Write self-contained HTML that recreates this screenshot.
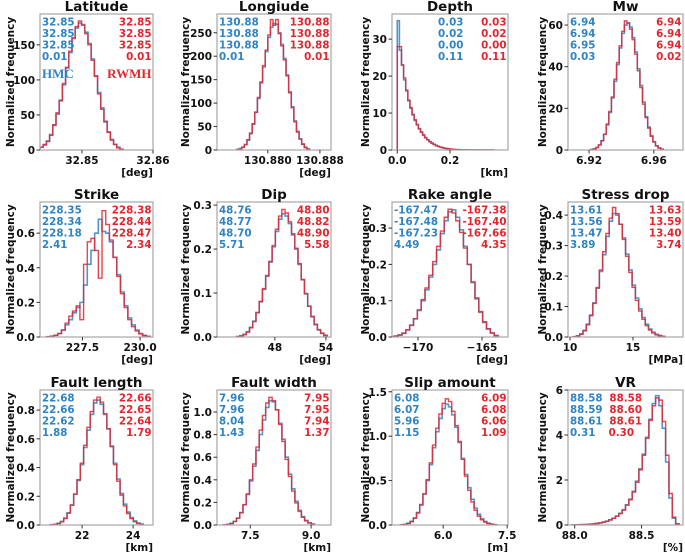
<!DOCTYPE html>
<html><head><meta charset="utf-8"><style>
html,body{margin:0;padding:0;background:#fff;}
svg{display:block;font-family:"DejaVu Sans","Liberation Sans",sans-serif;font-weight:bold;}
</style></head><body>
<svg id="fig" width="685" height="552" viewBox="0 0 685 552" xmlns="http://www.w3.org/2000/svg"></svg>
<script>
// ---- data (bin start, bin width, heights) ----
const latitudeBins=[32.8432,0.00045];
const latitudeHMC=[1,2,4,7,13,22,35,51,71,93,117,139,159,174,181,179,168,152,130,106,82,60,40,26,15,8,4,1];
const latitudeRWMH=[1,1,4,8,12,21,36,53,70,95,118,141,160,176,184,178,166,150,128,105,80,58,41,25,14,8,3,1];
const longitudeBins=[130.8752,0.0004];
const longitudeHMC=[1,3,6,12,21,35,55,81,110,143,177,210,240,262,270,268,250,225,195,160,124,92,62,40,24,13,6,2];
const longitudeRWMH=[1,2,6,11,22,36,56,80,112,145,180,213,245,278,266,278,248,222,192,158,122,90,60,38,23,12,5,2];
const depthBins=[0.0,0.008];
const depthHMC=[35,27,23,19,16.2,13.3,11.3,9.5,8,6.8,5.7,4.8,4,3.3,2.75,2.25,1.85,1.5,1.2,0.98,0.78,0.62,0.5,0.39,0.3,0.23,0.18,0.13,0.1,0.08,0.06,0.045,0.035,0.025,0.02,0.015,0.01,0.008,0.006,0.005,0.004,0.003,0.002,0.002,0.001,0.001];
const depthRWMH=[28,28,23,19.5,16,13.5,11.5,9.7,8.2,6.9,5.8,4.9,4.1,3.4,2.8,2.3,1.9,1.55,1.25,1,0.8,0.64,0.5,0.4,0.31,0.24,0.18,0.14,0.1,0.08,0.06,0.045,0.035,0.025,0.02,0.015,0.01,0.008,0.006,0.005,0.004,0.003,0.002,0.002,0.001,0.001];
const mwBins=[6.921,0.0016];
const mwHMC=[0.2,0.5,1.2,2.4,4.4,7.5,12,18,25,33,41,49,56,60,61,59,54,47,39,31,23,16,11,7,4,2,1,0.4];
const mwRWMH=[0.2,0.5,1.1,2.5,4.5,7.6,12.5,18.5,25.5,34,42,50,57,62,61,58,53,46,38,30,22,15.5,10.5,6.5,3.8,2,1,0.4];
const strikeBins=[225.95,0.16];
const strikeHMC=[0.002,0.005,0.01,0.02,0.04,0.07,0.1,0.14,0.17,0.2,0.3,0.42,0.5,0.6,0.68,0.61,0.6,0.55,0.46,0.36,0.26,0.18,0.11,0.07,0.04,0.02,0.01,0.004];
const strikeRWMH=[0.002,0.004,0.01,0.02,0.04,0.08,0.12,0.15,0.18,0.1,0.42,0.55,0.57,0.5,0.34,0.73,0.65,0.56,0.46,0.35,0.25,0.17,0.1,0.06,0.035,0.018,0.008,0.003];
const dipBins=[43.5,0.38];
const dipHMC=[0.001,0.003,0.006,0.012,0.022,0.036,0.056,0.08,0.108,0.138,0.17,0.205,0.24,0.268,0.28,0.275,0.258,0.232,0.2,0.165,0.13,0.098,0.07,0.046,0.028,0.016,0.008,0.003];
const dipRWMH=[0.001,0.002,0.005,0.011,0.021,0.035,0.055,0.081,0.11,0.14,0.172,0.208,0.245,0.275,0.29,0.282,0.262,0.235,0.202,0.167,0.131,0.099,0.07,0.047,0.029,0.017,0.009,0.004];
const rakeBins=[-172.15,0.3];
const rakeHMC=[0.001,0.003,0.006,0.011,0.02,0.033,0.05,0.073,0.1,0.13,0.165,0.2,0.24,0.285,0.32,0.345,0.35,0.33,0.295,0.25,0.2,0.15,0.105,0.068,0.04,0.022,0.011,0.004];
const rakeRWMH=[0.001,0.002,0.005,0.01,0.019,0.032,0.05,0.075,0.103,0.135,0.17,0.208,0.25,0.292,0.33,0.352,0.342,0.32,0.288,0.245,0.2,0.152,0.108,0.07,0.042,0.023,0.011,0.004];
const stressBins=[10.25,0.26];
const stressHMC=[0.001,0.004,0.01,0.022,0.042,0.072,0.112,0.16,0.215,0.27,0.33,0.38,0.405,0.4,0.37,0.325,0.272,0.22,0.17,0.128,0.092,0.064,0.042,0.026,0.016,0.009,0.005,0.002];
const stressRWMH=[0.001,0.003,0.009,0.02,0.04,0.07,0.11,0.162,0.22,0.28,0.34,0.39,0.425,0.405,0.37,0.32,0.265,0.212,0.163,0.12,0.085,0.058,0.037,0.023,0.013,0.007,0.004,0.002];
const lengthBins=[20.76,0.13];
const lengthHMC=[0.002,0.005,0.012,0.025,0.048,0.085,0.14,0.215,0.31,0.42,0.54,0.66,0.77,0.85,0.87,0.84,0.77,0.67,0.55,0.43,0.32,0.22,0.145,0.09,0.052,0.028,0.014,0.006];
const lengthRWMH=[0.001,0.004,0.01,0.022,0.045,0.082,0.138,0.215,0.315,0.43,0.555,0.68,0.79,0.87,0.89,0.855,0.775,0.67,0.545,0.42,0.305,0.208,0.133,0.08,0.045,0.023,0.011,0.005];
const widthBins=[6.84,0.08];
const widthHMC=[0.002,0.006,0.015,0.032,0.062,0.11,0.18,0.27,0.39,0.52,0.66,0.8,0.93,1.04,1.1,1.09,1.02,0.9,0.76,0.6,0.45,0.32,0.21,0.13,0.075,0.04,0.02,0.008];
const widthRWMH=[0.002,0.005,0.013,0.03,0.06,0.108,0.18,0.275,0.4,0.54,0.69,0.84,0.97,1.08,1.13,1.1,1.02,0.89,0.74,0.58,0.43,0.3,0.195,0.12,0.068,0.036,0.017,0.007];
const slipBins=[5.0,0.075];
const slipHMC=[0.003,0.008,0.02,0.042,0.08,0.14,0.23,0.35,0.5,0.68,0.87,1.05,1.2,1.31,1.36,1.33,1.24,1.1,0.93,0.75,0.57,0.42,0.29,0.19,0.12,0.07,0.04,0.02,0.01,0.004];
const slipRWMH=[0.002,0.006,0.016,0.038,0.075,0.135,0.225,0.35,0.51,0.7,0.9,1.09,1.25,1.37,1.42,1.39,1.28,1.12,0.94,0.74,0.55,0.39,0.26,0.165,0.1,0.058,0.032,0.016,0.008,0.003];
const vrBins=[87.98,0.025];
const vrHMC=[0.005,0.008,0.012,0.018,0.025,0.035,0.05,0.07,0.095,0.13,0.17,0.23,0.3,0.4,0.52,0.68,0.9,1.15,1.5,1.95,2.5,3.15,3.9,4.7,5.4,5.75,5.3,4.3,2.8,1.2,0.3,0.05];
const vrRWMH=[0.004,0.007,0.011,0.017,0.024,0.034,0.048,0.068,0.093,0.127,0.168,0.225,0.295,0.39,0.51,0.66,0.88,1.12,1.46,1.9,2.45,3.1,3.85,4.65,5.3,5.65,5.55,4.6,3.1,1.4,0.35,0.06];

// ---- tick labels & stats ----
const titles=["Latitude","Longiude","Depth","Mw","Strike","Dip","Rake angle","Stress drop","Fault length","Fault width","Slip amount","VR"];
const units=["[deg]","[deg]","[km]","","[deg]","[deg]","[deg]","[MPa]","[km]","[km]","[m]","[%]"];
const xTicks=[[32.85,32.86],[130.88,130.888],[0,0.2],[6.92,6.96],[227.5,230],[48,54],[-170,-165],[10,15],[22,24],[7.5,9],[6,7.5],[88,88.5]];
const xTickLabels=[["32.85","32.86"],["130.880","130.888"],["0.0","0.2"],["6.92","6.96"],["227.5","230.0"],["48","54"],["\u2212170","\u2212165"],["10","15"],["22","24"],["7.5","9.0"],["6.0","7.5"],["88.0","88.5"]];
const yTicks=[[0,50,100,150],[0,50,100,150,200,250],[0,10,20,30],[0,20,40,60],[0,0.2,0.4,0.6],[0,0.1,0.2,0.3],[0,0.1,0.2,0.3],[0,0.1,0.2,0.3,0.4],[0,0.2,0.4,0.6,0.8],[0,0.2,0.4,0.6,0.8,1.0],[0,0.5,1.0,1.5],[0,2,4,6]];
const yTickLabels=[["0","50","100","150"],["0","50","100","150","200","250"],["0","10","20","30"],["0","20","40","60"],["0.0","0.2","0.4","0.6"],["0.0","0.1","0.2","0.3"],["0.0","0.1","0.2","0.3"],["0.0","0.1","0.2","0.3","0.4"],["0.0","0.2","0.4","0.6","0.8"],["0.0","0.2","0.4","0.6","0.8","1.0"],["0.0","0.5","1.0","1.5"],["0","2","4","6"]];
const statsHMC=[["32.85","32.85","32.85","0.01"],["130.88","130.88","130.88","0.01"],["0.03","0.02","0.00","0.11"],["6.94","6.94","6.95","0.03"],["228.35","228.34","228.18","2.41"],["48.76","48.77","48.70","5.71"],["-167.47","-167.48","-167.23","4.49"],["13.61","13.56","13.47","3.89"],["22.68","22.66","22.62","1.88"],["7.96","7.96","8.04","1.43"],["6.08","6.07","5.96","1.15"],["88.58","88.59","88.61","0.31"]];
const statsRWMH=[["32.85","32.85","32.85","0.01"],["130.88","130.88","130.88","0.01"],["0.03","0.02","0.00","0.11"],["6.94","6.94","6.94","0.02"],["228.38","228.44","228.47","2.34"],["48.80","48.82","48.90","5.58"],["-167.38","-167.40","-167.66","4.35"],["13.63","13.59","13.40","3.74"],["22.66","22.65","22.64","1.79"],["7.95","7.95","7.94","1.37"],["6.09","6.08","6.06","1.09"],["88.58","88.60","88.61","0.30"]];
const binsList=[latitudeBins,longitudeBins,depthBins,mwBins,strikeBins,dipBins,rakeBins,stressBins,lengthBins,widthBins,slipBins,vrBins];
const hmcList=[latitudeHMC,longitudeHMC,depthHMC,mwHMC,strikeHMC,dipHMC,rakeHMC,stressHMC,lengthHMC,widthHMC,slipHMC,vrHMC];
const rwmhList=[latitudeRWMH,longitudeRWMH,depthRWMH,mwRWMH,strikeRWMH,dipRWMH,rakeRWMH,stressRWMH,lengthRWMH,widthRWMH,slipRWMH,vrRWMH];
const xLims=[[32.8441,32.8600],[130.8722,130.8897],[-0.02,0.42],[6.907,6.978],[225.66,230.56],[41.2,54.6],[-172.03,-162.97],[9.84,18.97],[20.35,24.78],[6.68,9.49],[4.80,7.52],[87.95,88.81]];
const yLims=[194,290,36.8,65.3,0.78,0.307,0.372,0.443,0.94,1.195,1.52,6.0];

// ---- layout ----
const colX=[[40,153],[217,331],[392,508],[568,683]];
const rowY=[[14,150],[202,337],[390,525]];
const yLabelX=[10,185,365,542];
const BLUE="#2f84c6", RED="#e3262e";
const svg=document.getElementById('fig');
const NS="http://www.w3.org/2000/svg";
function mk(tag,attrs,parent){const e=document.createElementNS(NS,tag);for(const k in attrs)e.setAttribute(k,attrs[k]);(parent||svg).appendChild(e);return e;}
function txt(str,attrs,parent){const e=mk('text',attrs,parent);e.textContent=str;return e;}
const defs=mk('defs',{});

for(let p=0;p<12;p++){
  const [L,R]=colX[p%4],[T,B]=rowY[Math.floor(p/4)];
  const g=mk('g',{});
  
  
  const xs=v=>L+(v-xLims[p][0])/(xLims[p][1]-xLims[p][0])*(R-L);
  const ys=v=>B-v/yLims[p]*(B-T);
  const cp=mk('clipPath',{id:'c'+p},defs); mk('rect',{x:L,y:T,width:R-L,height:B-T},cp);
  function hist(vals,color,w,op,name){
    const [s,bw]=binsList[p];
    let d='M'+xs(s).toFixed(2)+','+B;
    vals.forEach((v,i)=>{const y=ys(v).toFixed(2);d+=' L'+xs(s+i*bw).toFixed(2)+','+y+' L'+xs(s+(i+1)*bw).toFixed(2)+','+y;});
    d+=' L'+xs(s+vals.length*bw).toFixed(2)+','+B;
    const path=mk('path',{d:d,fill:'none',stroke:color,'stroke-width':w,opacity:op,'clip-path':'url(#c'+p+')','stroke-linejoin':'miter'},g);
    
    
  }
  hist(hmcList[p],BLUE,1.6,0.85,'hmc-histogram');
  hist(rwmhList[p],RED,1.4,0.85,'rwmh-histogram');
  const fr=mk('rect',{x:L,y:T,width:R-L,height:B-T,fill:'none',stroke:'#a6a6a6','stroke-width':1.2},g);
  
  
  const t=txt(titles[p],{x:(L+R)/2,y:T-3,'text-anchor':'middle','font-size':13.5,fill:'#111'},g);
  
  
  xTicks[p].forEach((v,i)=>{const x=xs(v);mk('line',{x1:x,x2:x,y1:B,y2:B+3.5,stroke:'#333','stroke-width':1},g);
    const tl=txt(xTickLabels[p][i],{x:x,y:B+14,'text-anchor':'middle','font-size':10.5,fill:'#111'},g);
    
    });
  yTicks[p].forEach((v,i)=>{const y=ys(v);mk('line',{x1:L-3.5,x2:L,y1:y,y2:y,stroke:'#333','stroke-width':1},g);
    const tl=txt(yTickLabels[p][i],{x:L-5,y:y+4,'text-anchor':'end','font-size':10.5,fill:'#111'},g);
    
    });
  if(units[p]){const u=txt(units[p],{x:R,y:B+26,'text-anchor':'end','font-size':10.5,fill:'#111'},g);
    
    }
  const yl=txt('Normalized frequency',{x:0,y:0,'text-anchor':'middle','font-size':10.5,fill:'#111',transform:'translate('+(yLabelX[p%4]+4)+','+((T+B)/2)+') rotate(-90)'},g);
  
  
  const offs=[11.5,23,34.5,46];
  for(let k=0;k<4;k++){
    const ax=(p===2)?438:L+2;
    const a=txt(statsHMC[p][k],{x:ax,y:T+offs[k],'font-size':10.3,fill:BLUE},g);
    
    
    const bx=(p===11)?(k===3?634:642):R-1.5;
    const b=txt(statsRWMH[p][k],{x:bx,y:T+offs[k],'text-anchor':'end','font-size':10.3,fill:RED},g);
    
    
  }
  if(p===0){
    const h=txt('HMC',{x:L+2,y:T+64,'font-size':13,fill:BLUE,'font-family':'Liberation Serif, serif','font-weight':'bold'},g);
    
    
    const r=txt('RWMH',{x:R-1.5,y:T+64,'text-anchor':'end','font-size':13,fill:RED,'font-family':'Liberation Serif, serif','font-weight':'bold'},g);
    
    
  }
}
</script>
</body></html>
